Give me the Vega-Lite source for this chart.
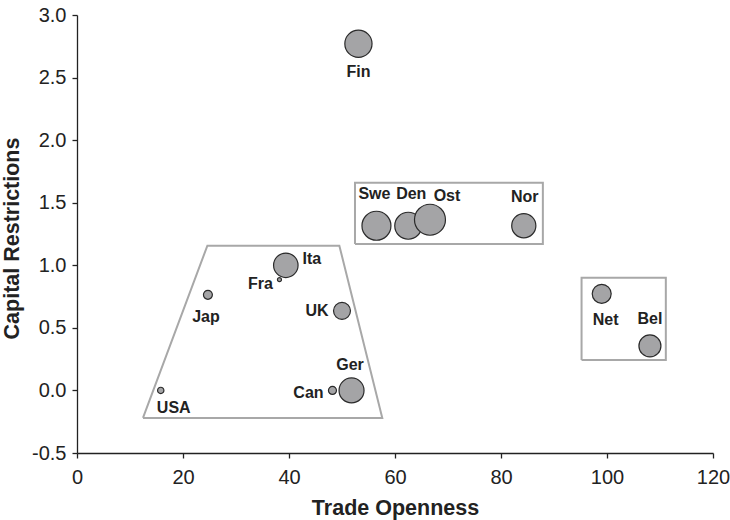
{
  "$schema": "https://vega.github.io/schema/vega-lite/v6.json",
  "width": 636,
  "height": 438,
  "autosize": "none",
  "padding": {"left": 77, "top": 15, "right": 17, "bottom": 67},
  "background": "white",
  "config": {"view": {"stroke": null}, "font": "Liberation Sans"},
  "datasets": {
    "pts": [
      {"c": "Fin", "x": 53.1, "y": 2.77, "w": 185},
      {"c": "Swe", "x": 56.5, "y": 1.316, "w": 210},
      {"c": "Den", "x": 62.5, "y": 1.316, "w": 182},
      {"c": "Ost", "x": 66.6, "y": 1.364, "w": 240},
      {"c": "Nor", "x": 84.3, "y": 1.316, "w": 146},
      {"c": "Ita", "x": 39.4, "y": 1.0, "w": 150},
      {"c": "Fra", "x": 38.2, "y": 0.885, "w": 4},
      {"c": "Jap", "x": 24.7, "y": 0.764, "w": 20},
      {"c": "UK", "x": 50.0, "y": 0.636, "w": 72},
      {"c": "Ger", "x": 51.8, "y": 0.0, "w": 156},
      {"c": "Can", "x": 48.2, "y": 0.0, "w": 16},
      {"c": "USA", "x": 15.8, "y": 0.0, "w": 10},
      {"c": "Net", "x": 99.0, "y": 0.772, "w": 90},
      {"c": "Bel", "x": 108.1, "y": 0.356, "w": 121}
    ],
    "shapes": [
      {"g": "G7", "o": 1, "x": 12.45, "y": -0.22},
      {"g": "G7", "o": 2, "x": 24.6, "y": 1.157},
      {"g": "G7", "o": 3, "x": 49.5, "y": 1.157},
      {"g": "G7", "o": 4, "x": 57.6, "y": -0.22},
      {"g": "G7", "o": 5, "x": 12.45, "y": -0.22},
      {"g": "Nordic", "o": 1, "x": 52.45, "y": 1.17},
      {"g": "Nordic", "o": 2, "x": 52.45, "y": 1.66},
      {"g": "Nordic", "o": 3, "x": 87.9, "y": 1.66},
      {"g": "Nordic", "o": 4, "x": 87.9, "y": 1.17},
      {"g": "Nordic", "o": 5, "x": 52.45, "y": 1.17},
      {"g": "Benelux", "o": 1, "x": 95.2, "y": 0.244},
      {"g": "Benelux", "o": 2, "x": 95.2, "y": 0.9},
      {"g": "Benelux", "o": 3, "x": 111.1, "y": 0.9},
      {"g": "Benelux", "o": 4, "x": 111.1, "y": 0.244},
      {"g": "Benelux", "o": 5, "x": 95.2, "y": 0.244}
    ]
  },
  "data": {"name": "pts"},
  "encoding": {
    "x": {
      "field": "x", "type": "quantitative",
      "scale": {"domain": [0, 120], "nice": false, "zero": false},
      "axis": {
        "title": "Trade Openness", "values": [0, 20, 40, 60, 80, 100, 120], "grid": false,
        "tickSize": 5, "labelFontSize": 20, "titleFontSize": 21.5, "titleFontWeight": "bold",
        "labelColor": "#222", "titleColor": "#222", "domainColor": "#222", "tickColor": "#222",
        "domainWidth": 1.3, "tickWidth": 1.3,
        "labelPadding": 9, "titlePadding": 10, "labelFlush": false, "labelOverlap": false
      }
    },
    "y": {
      "field": "y", "type": "quantitative",
      "scale": {"domain": [-0.5, 3.0], "nice": false, "zero": false},
      "axis": {
        "title": "Capital Restrictions", "values": [-0.5, 0, 0.5, 1, 1.5, 2, 2.5, 3], "grid": false,
        "labelExpr": "replace(format(datum.value, '.1f'), '\u2212', '-')",
        "tickSize": 5, "labelFontSize": 20, "titleFontSize": 21.5, "titleFontWeight": "bold",
        "labelColor": "#222", "titleColor": "#222", "domainColor": "#222", "tickColor": "#222",
        "domainWidth": 1.3, "tickWidth": 1.3, "titleY": 223,
        "labelPadding": 6, "titlePadding": 8, "labelFlush": false, "labelOverlap": false
      }
    }
  },
  "layer": [
    {
      "data": {"name": "shapes"},
      "mark": {"type": "line", "stroke": "#a8a8a8", "strokeWidth": 2, "strokeJoin": "miter"},
      "encoding": {"detail": {"field": "g"}, "order": {"field": "o", "type": "quantitative"}}
    },
    {
      "mark": {"type": "circle", "fill": "#a4a4a6", "stroke": "#2a2a2a", "strokeWidth": 1.2, "opacity": 1},
      "encoding": {
        "size": {"field": "w", "type": "quantitative", "scale": {"domain": [0, 256], "range": [0, 1024]}, "legend": null}
      }
    },
    {"transform": [{"filter": "datum.c == 'Fin'"}], "mark": {"type": "text", "text": "Fin", "fontWeight": "bold", "fontSize": 16, "color": "#222", "baseline": "middle", "dx": 0, "dy": 28}, "encoding": {}},
    {"transform": [{"filter": "datum.c == 'Swe'"}], "mark": {"type": "text", "text": "Swe", "fontWeight": "bold", "fontSize": 16, "color": "#222", "baseline": "middle", "dx": -2, "dy": -32}, "encoding": {}},
    {"transform": [{"filter": "datum.c == 'Den'"}], "mark": {"type": "text", "text": "Den", "fontWeight": "bold", "fontSize": 16, "color": "#222", "baseline": "middle", "dx": 3, "dy": -32}, "encoding": {}},
    {"transform": [{"filter": "datum.c == 'Ost'"}], "mark": {"type": "text", "text": "Ost", "fontWeight": "bold", "fontSize": 16, "color": "#222", "baseline": "middle", "dx": 17, "dy": -24}, "encoding": {}},
    {"transform": [{"filter": "datum.c == 'Nor'"}], "mark": {"type": "text", "text": "Nor", "fontWeight": "bold", "fontSize": 16, "color": "#222", "baseline": "middle", "dx": 1, "dy": -29}, "encoding": {}},
    {"transform": [{"filter": "datum.c == 'Ita'"}], "mark": {"type": "text", "text": "Ita", "fontWeight": "bold", "fontSize": 16, "color": "#222", "baseline": "middle", "dx": 26, "dy": -6}, "encoding": {}},
    {"transform": [{"filter": "datum.c == 'Fra'"}], "mark": {"type": "text", "text": "Fra", "fontWeight": "bold", "fontSize": 16, "color": "#222", "baseline": "middle", "dx": -19, "dy": 4}, "encoding": {}},
    {"transform": [{"filter": "datum.c == 'Jap'"}], "mark": {"type": "text", "text": "Jap", "fontWeight": "bold", "fontSize": 16, "color": "#222", "baseline": "middle", "dx": -2, "dy": 22}, "encoding": {}},
    {"transform": [{"filter": "datum.c == 'UK'"}], "mark": {"type": "text", "text": "UK", "fontWeight": "bold", "fontSize": 16, "color": "#222", "baseline": "middle", "dx": -25, "dy": 0}, "encoding": {}},
    {"transform": [{"filter": "datum.c == 'Ger'"}], "mark": {"type": "text", "text": "Ger", "fontWeight": "bold", "fontSize": 16, "color": "#222", "baseline": "middle", "dx": -1.5, "dy": -25}, "encoding": {}},
    {"transform": [{"filter": "datum.c == 'Can'"}], "mark": {"type": "text", "text": "Can", "fontWeight": "bold", "fontSize": 16, "color": "#222", "baseline": "middle", "dx": -24, "dy": 3}, "encoding": {}},
    {"transform": [{"filter": "datum.c == 'USA'"}], "mark": {"type": "text", "text": "USA", "fontWeight": "bold", "fontSize": 16, "color": "#222", "baseline": "middle", "dx": 13, "dy": 18}, "encoding": {}},
    {"transform": [{"filter": "datum.c == 'Net'"}], "mark": {"type": "text", "text": "Net", "fontWeight": "bold", "fontSize": 16, "color": "#222", "baseline": "middle", "dx": 4, "dy": 26.5}, "encoding": {}},
    {"transform": [{"filter": "datum.c == 'Bel'"}], "mark": {"type": "text", "text": "Bel", "fontWeight": "bold", "fontSize": 16, "color": "#222", "baseline": "middle", "dx": 0, "dy": -27}, "encoding": {}}
  ]
}
